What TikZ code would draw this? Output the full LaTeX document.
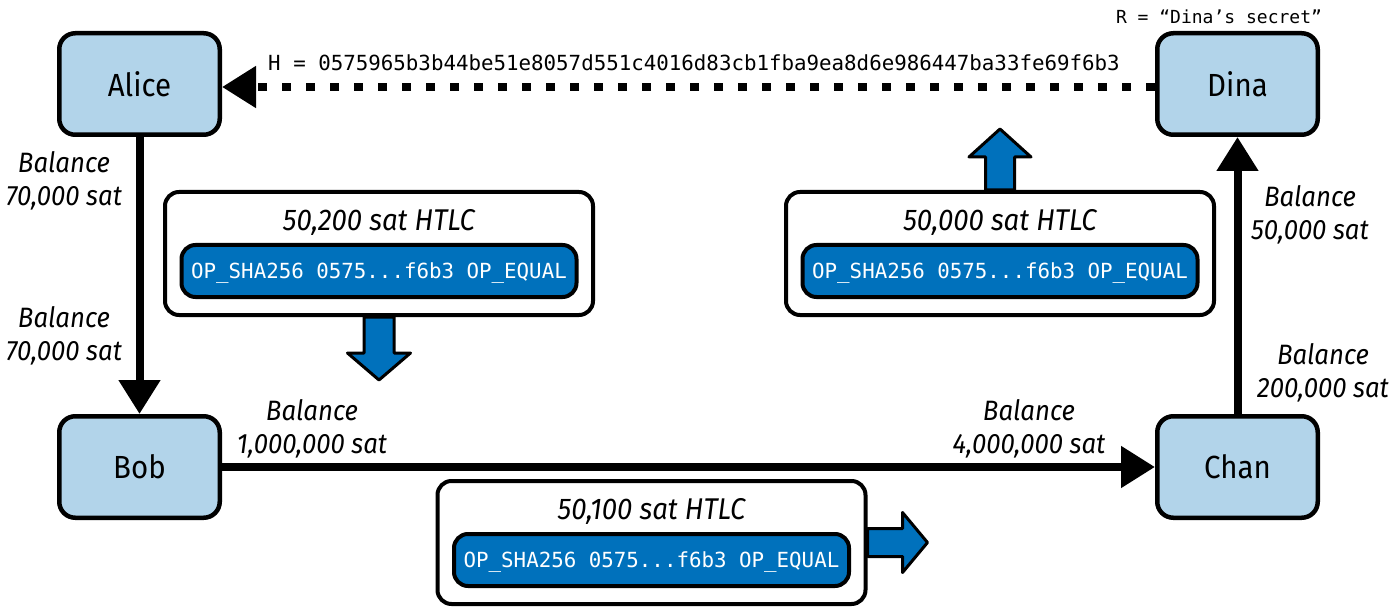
\documentclass[tikz,border=0pt]{standalone}
\usepackage{fontspec}
\setmainfont{Fira Sans}[FakeStretch=0.92]
\newfontfamily\monof{DejaVu Sans Mono}
\usetikzlibrary{arrows.meta,calc}
\definecolor{nodeblue}{RGB}{178,212,234}
\definecolor{codeblue}{RGB}{0,113,188}
\tikzset{
  party/.style={draw=black, line width=2.25pt, fill=nodeblue, rounded corners=8pt,
    minimum width=80.25pt, minimum height=50.75pt, inner sep=0pt,
    font=\fontsize{16}{19}\selectfont},
  htlcbox/.style={draw=black, line width=2pt, fill=white, rounded corners=7pt,
    minimum width=214pt, minimum height=61.5pt, inner sep=0pt},
  htlctitle/.style={anchor=base, inner sep=0pt, font=\fontsize{15}{18}\selectfont\itshape},
  codebox/.style={draw=black, line width=2pt, fill=codeblue, rounded corners=7pt,
    minimum width=197.5pt, minimum height=26pt, inner sep=0pt, text=white,
    text height=7.6pt, text depth=0pt, font=\monof\fontsize{10.4}{12}\selectfont},
  conn/.style={line width=4pt, -{Triangle[length=17pt,width=20pt]}},
  dashconn/.style={conn, dash pattern=on 4.5pt off 7.5pt},
  barrow/.style={draw=black, line width=1.5pt, fill=codeblue, line join=round},
  bal/.style={align=center, inner sep=0pt, font=\fontsize{14}{16.5}\selectfont\itshape},
  hashtxt/.style={anchor=base, inner sep=0pt, font=\monof\fontsize{10.4}{12}\selectfont},
}
\begin{document}
\begin{tikzpicture}[x=0.5pt,y=-0.5pt]
\useasboundingbox (0,0) rectangle (1399,610);

% parties
\node[party] (alice) at (139.5,84) {Alice};
\node[party] (dina) at (1237.5,84) {Dina};
\node[party] (bob) at (139.5,467) {Bob};
\node[party] (chan) at (1237.5,467) {Chan};

% connectors
\draw[conn] (alice) -- (bob);
\draw[conn] (bob) -- (chan);
\draw[conn] (chan) -- (dina);
\draw[dashconn] ([yshift=-1.5pt]dina.west) -- ([yshift=-1.5pt]alice.east);

% texts
\node[hashtxt] (hash) at (694,71) {H = 0575965b3b44be51e8057d551c4016d83cb1fba9ea8d6e986447ba33fe69f6b3};
\node[hashtxt, font=\monof\fontsize{9}{11}\selectfont] (secret) at (1219,24) {R = “Dina’s secret”};

% balance labels
\node[bal] (l1) at (64,181) {Balance\\70,000 sat};
\node[bal] (l2) at (64,336) {Balance\\70,000 sat};
\node[bal] (l3) at (312,429) {Balance\\1,000,000 sat};
\node[bal] (l4) at (1029,429) {Balance\\4,000,000 sat};
\node[bal] (l5) at (1310,214.5) {Balance\\50,000 sat};
\node[bal] (l6) at (1323,372.5) {Balance\\200,000 sat};

% HTLC boxes
\node[htlcbox] (h1) at (379,253.5) {};
\node[htlctitle] (h1t) at ($(h1.center)+(0,-23.5)$) {50,200 sat HTLC};
\node[codebox] (h1c) at ($(h1.center)+(0,17.5)$) {OP\_SHA256 0575...f6b3 OP\_EQUAL};

\node[htlcbox] (h2) at (1000,253.5) {};
\node[htlctitle] (h2t) at ($(h2.center)+(0,-23.5)$) {50,000 sat HTLC};
\node[codebox] (h2c) at ($(h2.center)+(0,17.5)$) {OP\_SHA256 0575...f6b3 OP\_EQUAL};

\node[htlcbox] (h3) at (651.5,542.5) {};
\node[htlctitle] (h3t) at ($(h3.center)+(0,-23.5)$) {50,100 sat HTLC};
\node[codebox] (h3c) at ($(h3.center)+(0,17.5)$) {OP\_SHA256 0575...f6b3 OP\_EQUAL};

% blue flow arrows
\begin{scope}[shift={(h1.south)}]
  \draw[barrow] (-15,0) -- (-15,36) -- (-31.5,36) -- (0,63) -- (31.5,36) -- (15,36) -- (15,0) -- cycle;
\end{scope}
\begin{scope}[shift={(h2.north)}, rotate=180]
  \draw[barrow] (-14.5,0) -- (-14.5,33) -- (-31,33) -- (0,61) -- (31,33) -- (14.5,33) -- (14.5,0) -- cycle;
\end{scope}
\begin{scope}[shift={(h3.east)}, rotate=90]
  \draw[barrow] (-14,0) -- (-14,35) -- (-30,35) -- (0,60) -- (30,35) -- (14,35) -- (14,0) -- cycle;
\end{scope}
\end{tikzpicture}
\end{document}
